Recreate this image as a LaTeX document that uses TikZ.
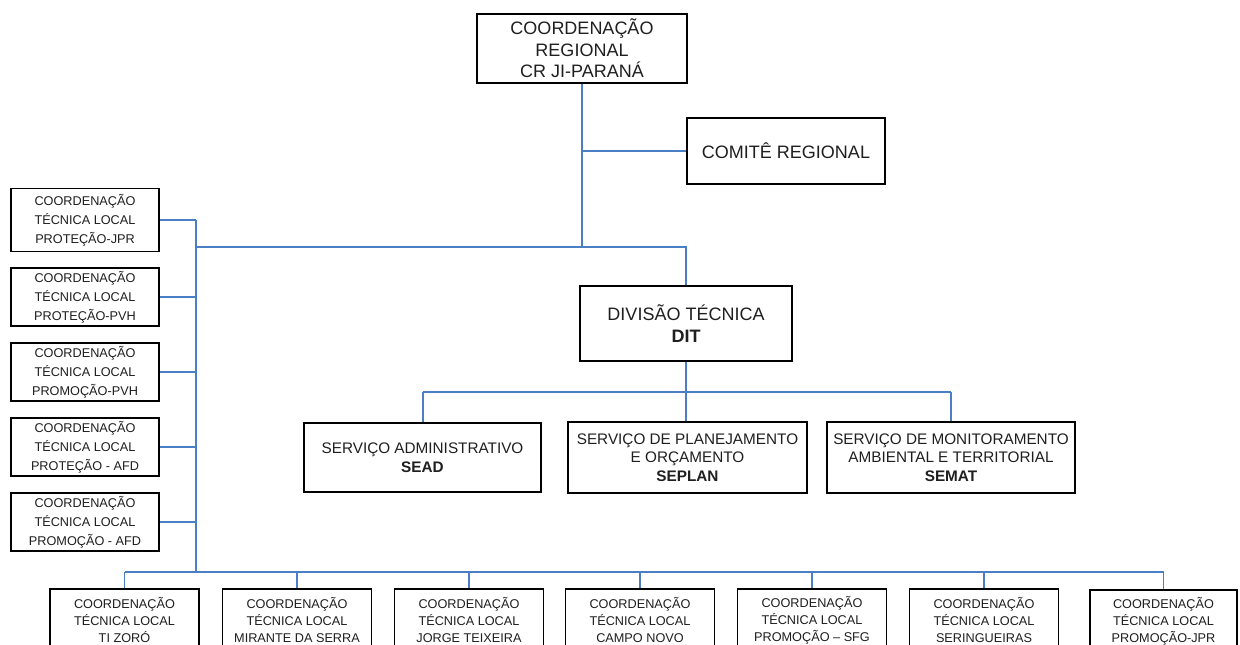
\documentclass[tikz,border=0pt]{standalone}
\usepackage{fontspec}
\setmainfont{Liberation Sans}
\definecolor{conn}{RGB}{74,126,197}
\begin{document}
\begin{tikzpicture}[x=1pt,y=-1pt,
  box/.style={draw=black, line width=1.3pt, fill=white, align=center, inner sep=0pt, text=black!88},
  bigbox/.style={box, font=\fontsize{18}{21.5}\selectfont},
  midbox/.style={box, font=\fontsize{15.3}{18.5}\selectfont},
  leftbox/.style={box, minimum width=148, font=\fontsize{12.7}{19}\selectfont},
  botbox/.style={box, minimum width=149, minimum height=62, font=\fontsize{12.7}{16.8}\selectfont},
  link/.style={draw=conn, line width=1.5pt}]
\useasboundingbox (0,0) rectangle (1240,645);
\clip (0,0) rectangle (1240,645);
% top
\node[bigbox, minimum width=210, minimum height=69] (cr) at (582,48.5) {COORDENAÇÃO\\REGIONAL\\CR JI-PARANÁ};
\node[bigbox, minimum width=198, minimum height=66] (com) at (786,151) {COMITÊ REGIONAL};
\node[bigbox, minimum width=212, minimum height=75] (dit) at (686,323.5) {DIVISÃO TÉCNICA\\\textbf{DIT}};
% services
\node[midbox, minimum width=237, minimum height=69] (sead) at (422.5,457.5) {SERVIÇO ADMINISTRATIVO\\\textbf{SEAD}};
\node[midbox, minimum width=239, minimum height=71] (seplan) at (687.5,457.5) {SERVIÇO DE PLANEJAMENTO\\E ORÇAMENTO\\\textbf{SEPLAN}};
\node[midbox, minimum width=248, minimum height=71] (semat) at (951,457.5) {SERVIÇO DE MONITORAMENTO\\AMBIENTAL E TERRITORIAL\\\textbf{SEMAT}};
% left column
\node[leftbox, minimum height=63] (l1) at (85,220) {COORDENAÇÃO\\TÉCNICA LOCAL\\PROTEÇÃO-JPR};
\node[leftbox, minimum height=58] (l2) at (85,297) {COORDENAÇÃO\\TÉCNICA LOCAL\\PROTEÇÃO-PVH};
\node[leftbox, minimum height=58] (l3) at (85,372) {COORDENAÇÃO\\TÉCNICA LOCAL\\PROMOÇÃO-PVH};
\node[leftbox, minimum height=58] (l4) at (85,447) {COORDENAÇÃO\\TÉCNICA LOCAL\\PROTEÇÃO - AFD};
\node[leftbox, minimum height=58] (l5) at (85,522) {COORDENAÇÃO\\TÉCNICA LOCAL\\PROMOÇÃO - AFD};
% bottom row
\node[botbox] (b1) at (124.5,620) {COORDENAÇÃO\\TÉCNICA LOCAL\\TI ZORÓ};
\node[botbox] (b2) at (297,620) {COORDENAÇÃO\\TÉCNICA LOCAL\\MIRANTE DA SERRA};
\node[botbox] (b3) at (469,620) {COORDENAÇÃO\\TÉCNICA LOCAL\\JORGE TEIXEIRA};
\node[botbox] (b4) at (640,620) {COORDENAÇÃO\\TÉCNICA LOCAL\\CAMPO NOVO};
\node[botbox] (b5) at (812,620) {COORDENAÇÃO\\TÉCNICA LOCAL\\PROMOÇÃO – SFG};
\node[botbox] (b6) at (984,620) {COORDENAÇÃO\\TÉCNICA LOCAL\\SERINGUEIRAS};
\node[botbox, minimum width=147] (b7) at (1163.5,621) {COORDENAÇÃO\\TÉCNICA LOCAL\\PROMOÇÃO-JPR};
% junction coordinates
\coordinate (jcom) at (582,151);
\coordinate (jmain) at (582,247);
\coordinate (jleft) at (196,247);
\coordinate (jdit) at (686,247);
\coordinate (ltop) at (196,220);
\coordinate (lbot) at (196,572);
\coordinate (sdit) at (686,392);
\coordinate (sl) at (423,392);
\coordinate (sr) at (951,392);
\coordinate (bl) at (125,572);
\coordinate (br) at (1164,572);
% connectors
\draw[link] (cr.south) -- (jmain);
\draw[link] (jcom) -- (com.west);
\draw[link] (jleft) -- (jdit) -- (dit.north);
\draw[link] (ltop) -- (lbot);
\foreach \n in {l1,l2,l3,l4,l5} \draw[link] (\n.east) -- (\n.east -| ltop);
\draw[link] (dit.south) -- (sdit);
\draw[link] (sl) -- (sr);
\draw[link] (sl) -- (sl |- sead.north);
\draw[link] (sdit) -- (sdit |- seplan.north);
\draw[link] (sr) -- (semat.north);
\draw[link] (bl) -- (br);
\foreach \n in {b1,b2,b3,b4,b5,b6,b7} \draw[link] (\n.north |- bl) -- (\n.north);
\end{tikzpicture}
\end{document}
